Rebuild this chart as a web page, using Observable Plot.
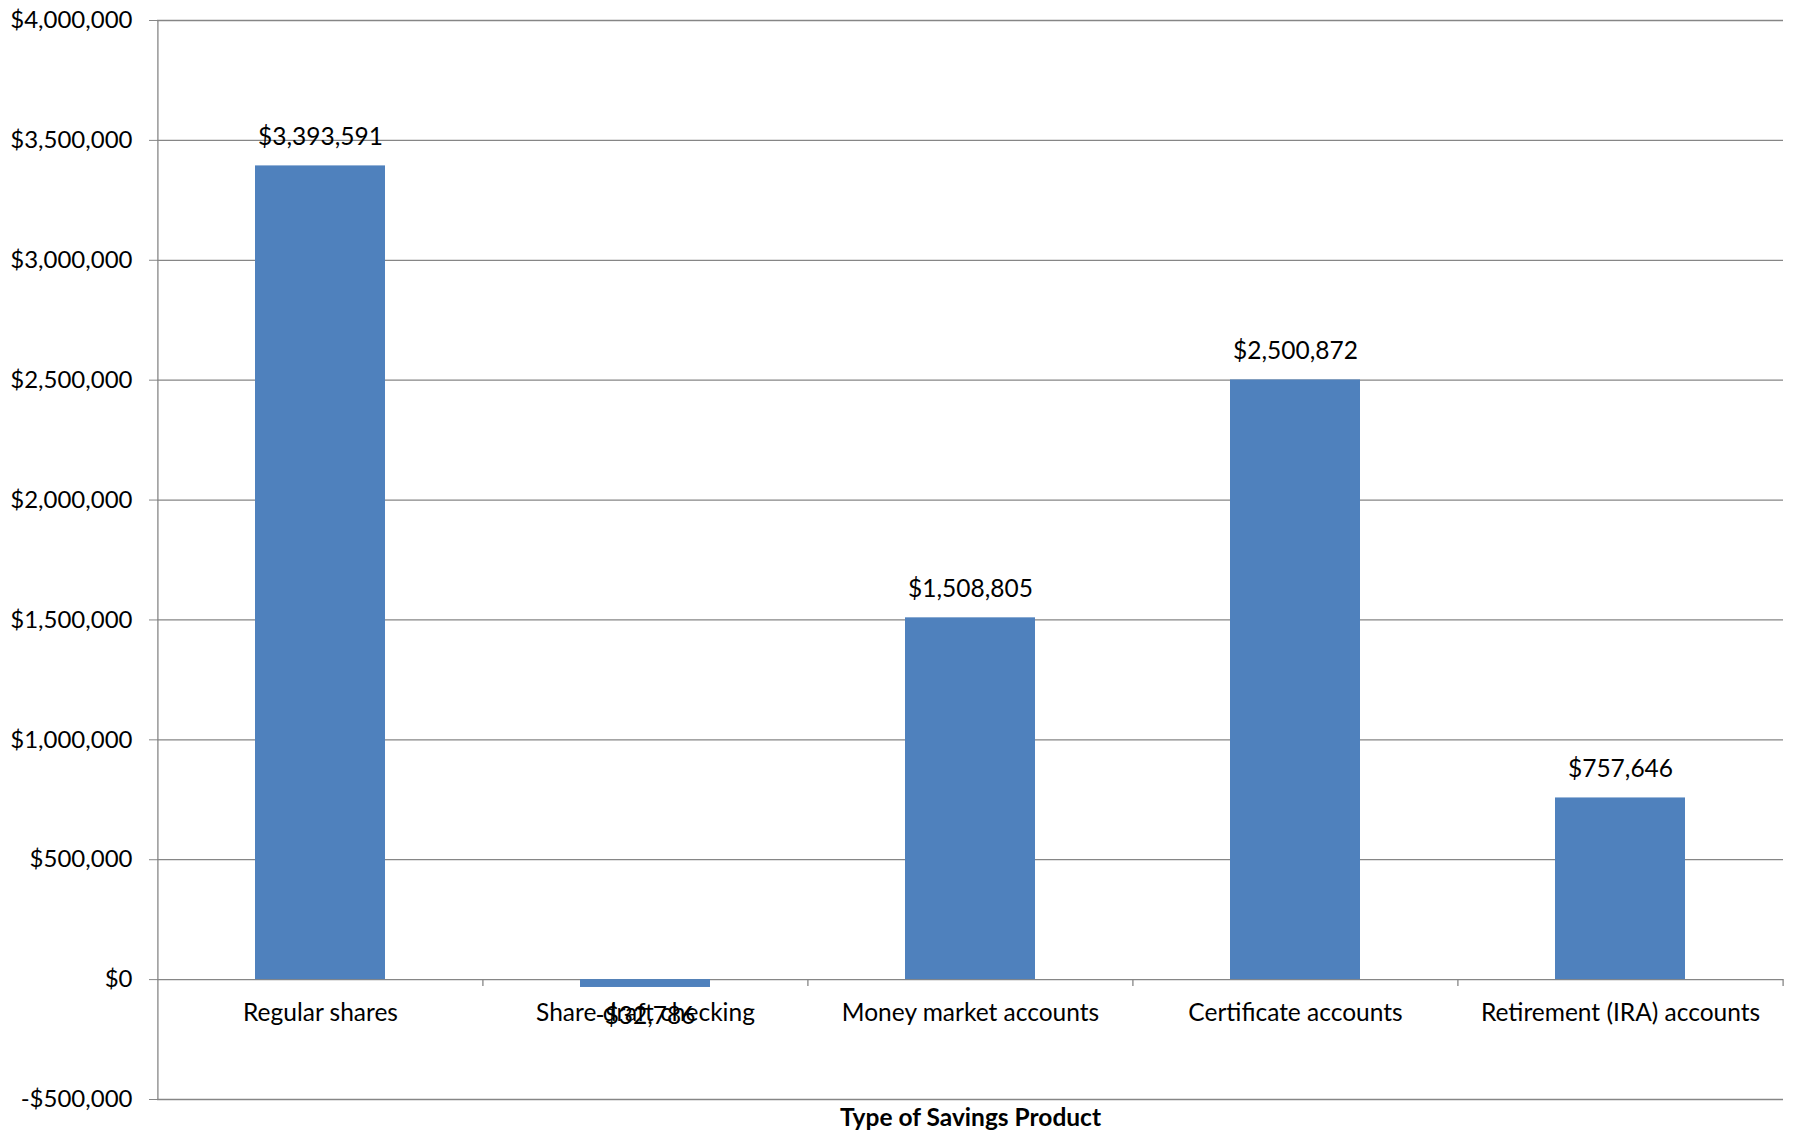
<!DOCTYPE html>
<html>
<head>
<meta charset="utf-8">
<script src="https://cdn.jsdelivr.net/npm/d3@7"></script>
<script src="https://cdn.jsdelivr.net/npm/@observablehq/plot@0.6"></script>
<style>
  html, body { margin: 0; padding: 0; background: #fff; }
  #chart svg { display: block; }
</style>
</head>
<body>
<div id="chart"></div>
<script>
const categories = ["Regular shares", "Share draft checking", "Money market accounts", "Certificate accounts", "Retirement (IRA) accounts"];
const values = [3393591, -32786, 1508805, 2500872, 757646];
const yTicks = [-500000, 0, 500000, 1000000, 1500000, 2000000, 2500000, 3000000, 3500000, 4000000];
const xTitle = "Type of Savings Product";

const data = categories.map((c, i) => ({category: c, value: values[i]}));
const money = d => (d < 0 ? "-" : "") + "$" + d3.format(",")(Math.abs(d));

const W = 1793, H = 1137;
const mL = 157, mR = 10;
const step = (W - mL - mR) / categories.length;
const grid = "#868686";
const fs = 24.5;

const chart = Plot.plot({
  width: W,
  height: H,
  marginLeft: mL,
  marginRight: mR,
  marginTop: 20,
  marginBottom: 38,
  style: {fontFamily: "Lato, 'Open Sans', sans-serif", fontSize: fs + "px", background: "#fff", color: "#000"},
  x: {domain: categories, paddingInner: 0.6, paddingOuter: 0.3, axis: null},
  y: {domain: [-500000, 4000000], axis: null},
  marks: [
    Plot.gridY(yTicks, {stroke: grid, strokeOpacity: 1, strokeWidth: 1.3}),
    Plot.ruleX([categories[0]], {dx: -step / 2, stroke: grid, strokeWidth: 1.3}),
    Plot.barY(data, {x: "category", y: "value", fill: "#4F81BD"}),
    Plot.ruleX(categories.slice(1), {x: d => d, y1: 0, y2: 0, dx: -step / 2, insetBottom: -7, stroke: grid, strokeWidth: 1.3}),
    Plot.ruleX([categories[categories.length - 1]], {x: d => d, y1: 0, y2: 0, dx: step / 2, insetBottom: -7, stroke: grid, strokeWidth: 1.3}),
    Plot.axisY(yTicks, {label: null, tickSize: 8, tickPadding: 17, tickFormat: money, stroke: grid, fill: "#000", fontSize: 24}),
    Plot.text(categories, {x: d => d, y: 0, dy: 34, fill: "#000", fontSize: fs}),
    Plot.text(data.filter(d => d.value >= 0), {x: "category", y: "value", text: d => money(d.value), dy: -29, fill: "#000", fontSize: fs}),
    Plot.text(data.filter(d => d.value < 0), {x: "category", y: "value", text: d => money(d.value), dy: 29, fill: "#000", fontSize: fs}),
    Plot.text([xTitle], {frameAnchor: "bottom", dy: 26, fontWeight: "bold", fill: "#000", fontSize: fs})
  ]
});
document.getElementById("chart").append(chart);
</script>
</body>
</html>
